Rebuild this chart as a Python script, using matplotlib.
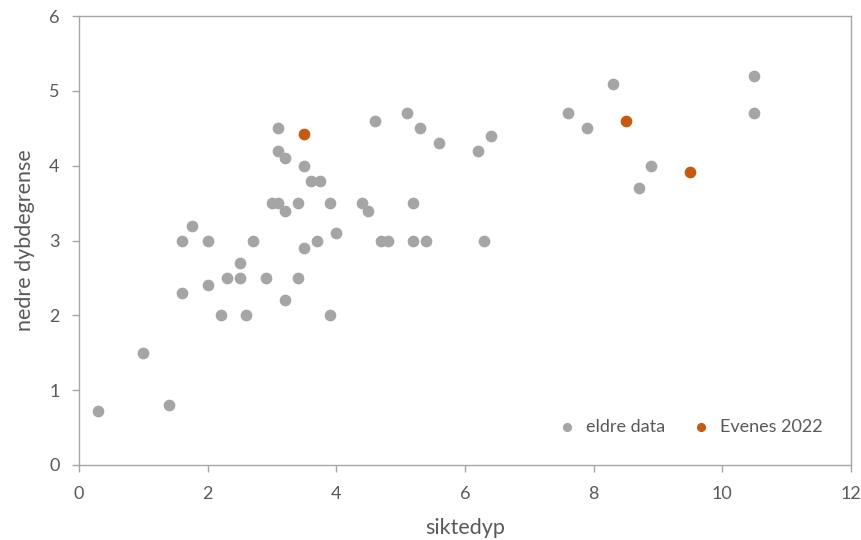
import matplotlib.pyplot as plt

# siktedyp (x) og nedre dybdegrense (y)
eldre_x = [0.3, 1.0, 1.4, 1.6, 1.6, 1.75, 2.0, 2.0, 2.2, 2.3, 2.5, 2.5, 2.6, 2.7,
           2.9, 3.0, 3.1, 3.1, 3.1, 3.2, 3.2, 3.2, 3.4, 3.4, 3.5, 3.5, 3.6, 3.7,
           3.75, 3.9, 3.9, 4.0, 4.4, 4.5, 4.6, 4.7, 4.8, 5.1, 5.2, 5.2, 5.3, 5.4,
           5.6, 6.2, 6.3, 6.4, 7.6, 7.9, 8.3, 8.7, 8.9, 10.5, 10.5]
eldre_y = [0.72, 1.5, 0.8, 3.0, 2.3, 3.2, 3.0, 2.4, 2.0, 2.5, 2.7, 2.5, 2.0, 3.0,
           2.5, 3.5, 3.5, 4.5, 4.2, 4.1, 3.4, 2.2, 3.5, 2.5, 4.0, 2.9, 3.8, 3.0,
           3.8, 3.5, 2.0, 3.1, 3.5, 3.4, 4.6, 3.0, 3.0, 4.7, 3.5, 3.0, 4.5, 3.0,
           4.3, 4.2, 3.0, 4.4, 4.7, 4.5, 5.1, 3.7, 4.0, 5.2, 4.7]

evenes_x = [3.5, 8.5, 9.5]
evenes_y = [4.42, 4.6, 3.92]

plt.rcParams['font.family'] = ['Lato', 'DejaVu Sans']

fig = plt.figure(figsize=(8.62, 5.40), dpi=100)
ax = fig.add_axes([0.0917, 0.139, 0.8953, 0.831])

ax.scatter(eldre_x, eldre_y, s=55, color="#A5A5A5", label="eldre data", zorder=3)
ax.scatter(evenes_x, evenes_y, s=55, color="#C55A11", label="Evenes 2022", zorder=3)

ax.set_xlim(0, 12)
ax.set_ylim(0, 6)
ax.set_xticks(range(0, 13, 2))
ax.set_yticks(range(0, 7))

for sp in ax.spines.values():
    sp.set_color("#A6A6A6")
    sp.set_linewidth(1.0)

ax.tick_params(colors="#A6A6A6", labelcolor="#595959", labelsize=13,
               length=5, width=1, direction="out")
ax.tick_params(axis="x", pad=10)
ax.tick_params(axis="y", pad=9)

ax.set_xlabel("siktedyp", fontsize=15.5, color="#595959", labelpad=12)
ax.set_ylabel("nedre dybdegrense", fontsize=15.5, color="#595959", labelpad=10)

ax.legend(loc="lower right", ncol=2, frameon=False, fontsize=13,
          handletextpad=0.05, columnspacing=1.0, markerscale=0.75,
          labelcolor="#595959", bbox_to_anchor=(0.985, 0.03))

fig.savefig("out.png", dpi=100)
